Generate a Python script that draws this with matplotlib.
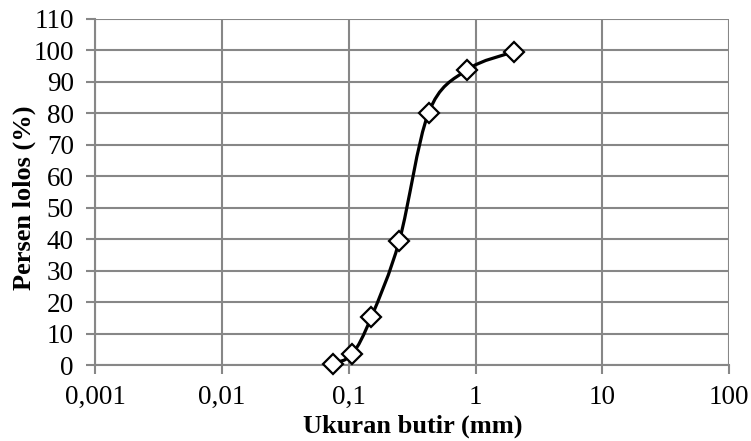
import numpy as np
import matplotlib
matplotlib.use('Agg')
import matplotlib.pyplot as plt
from matplotlib.path import Path
from matplotlib.patches import PathPatch
from matplotlib.ticker import FixedLocator, FixedFormatter

# Sieve analysis data
grain_size = [0.075, 0.106, 0.15, 0.25, 0.425, 0.85, 2.0]
percent_passing = [0.5, 3.5, 15.2, 39.6, 80.2, 93.8, 99.6]

x_ticks = [0.001, 0.01, 0.1, 1, 10, 100]
x_tick_labels = ['0,001', '0,01', '0,1', '1', '10', '100']
y_ticks = list(range(0, 111, 10))

plt.rcParams['font.family'] = ['Liberation Serif', 'DejaVu Serif']

grid_color = '#878787'


def smooth_path(xs, ys):
    # Excel-like smoothed line: Catmull-Rom turned into cubic Bezier segments,
    # computed in log-x space so the curve looks right on the log axis
    lx = np.log10(xs)
    py = np.array(ys, dtype=float)
    pts = np.column_stack([lx, py])
    n = len(pts)
    verts = [pts[0]]
    codes = [Path.MOVETO]
    for i in range(n - 1):
        p0 = pts[i - 1] if i > 0 else pts[i]
        p1 = pts[i]
        p2 = pts[i + 1]
        p3 = pts[i + 2] if i + 2 < n else pts[i + 1]
        c1 = p1 + (p2 - p0) / 6.0
        c2 = p2 - (p3 - p1) / 6.0
        verts += [c1, c2, p2]
        codes += [Path.CURVE4] * 3
    verts = np.array(verts)
    verts[:, 0] = 10 ** verts[:, 0]
    return Path(verts, codes)


fig = plt.figure(figsize=(7.51, 4.41), dpi=100)
ax = fig.add_axes([0.127, 0.172, 0.844, 0.785])

ax.set_xscale('log')
ax.set_xlim(0.001, 100)
ax.set_ylim(0, 110)

ax.xaxis.set_major_locator(FixedLocator(x_ticks))
ax.xaxis.set_major_formatter(FixedFormatter(x_tick_labels))
ax.xaxis.set_minor_locator(FixedLocator([]))
ax.set_yticks(y_ticks)

ax.grid(True, color=grid_color, linewidth=1.5)
ax.set_axisbelow(True)
for side in ['top', 'right']:
    ax.spines[side].set_visible(False)
for side in ['left', 'bottom']:
    ax.spines[side].set_color(grid_color)
    ax.spines[side].set_linewidth(1.5)
ax.tick_params(axis='both', direction='out', length=6.5, width=1.5, color=grid_color,
               labelsize=19.5)
ax.tick_params(axis='y', pad=9)
ax.tick_params(axis='x', pad=8)

patch = PathPatch(smooth_path(grain_size, percent_passing), facecolor='none',
                  edgecolor='black', linewidth=2.3, zorder=3)
ax.add_patch(patch)
ax.plot(grain_size, percent_passing, linestyle='none', marker='D', markersize=10,
        markerfacecolor='white', markeredgecolor='black', markeredgewidth=1.6,
        zorder=4, clip_on=False)

ax.set_xlabel('Ukuran butir (mm)', fontsize=19, fontweight='bold', labelpad=3)
ax.set_ylabel('Persen lolos (%)', fontsize=19, fontweight='bold')
ax.yaxis.set_label_coords(-0.094, 0.483)

fig.savefig('out.png', dpi=100)
